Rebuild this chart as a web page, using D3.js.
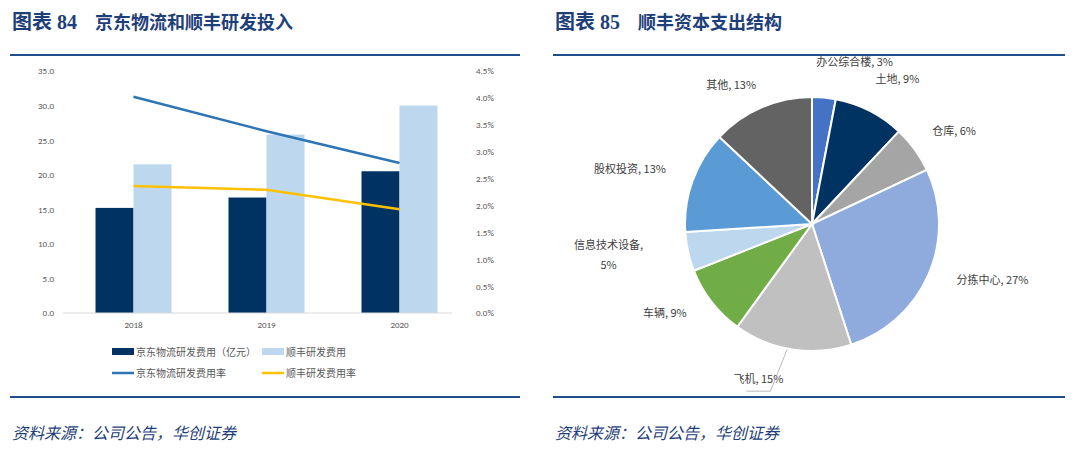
<!DOCTYPE html>
<html><head><meta charset="utf-8">
<script src="https://cdn.jsdelivr.net/npm/d3@7"></script>
<style>body{margin:0;background:#fff}svg{display:block}</style>
</head><body><svg id="c" width="1080" height="455"></svg>
<script>
const years = ["2018", "2019", "2020"];
const jdCost = [15.2, 16.7, 20.5];
const sfCost = [21.5, 25.8, 30.0];
const jdRate = [4.02, 3.38, 2.79];
const sfRate = [2.36, 2.29, 1.93];
const leftTicks = [0, 5, 10, 15, 20, 25, 30, 35];
const rightTicks = [0, 0.5, 1, 1.5, 2, 2.5, 3, 3.5, 4, 4.5];
const pieLabels = ["办公综合楼", "土地", "仓库", "分拣中心", "飞机", "车辆", "信息技术设备", "股权投资", "其他"];
const pieValues = [3, 9, 6, 27, 15, 9, 5, 13, 13];
const pieColors = ["#4472c4", "#003262", "#a5a5a5", "#8faadc", "#c0c0c0", "#70ad47", "#bdd7ee", "#5b9bd5", "#636363"];

const svg = d3.select("#c");
const CJK = "'Noto Sans CJK SC', sans-serif";
const navy = "#1f4e8c";

// headers, rules and sources
[[12, 10, 520, "图表 84", "京东物流和顺丰研发投入"], [555, 553, 1065, "图表 85", "顺丰资本支出结构"]].forEach(([tx, x0, x1, num, t]) => {
    const tt = svg.append("text").attr("x", tx).attr("y", 29).attr("fill", "#1f3f7a")
        .attr("font-family", "'Liberation Serif', 'Noto Sans CJK SC', serif").attr("font-size", 20).attr("font-weight", "bold");
    tt.append("tspan").text(num);
    tt.append("tspan").attr("dx", 18).attr("font-family", CJK).attr("font-size", 18).text(t);
    svg.append("line").attr("x1", x0).attr("x2", x1).attr("y1", 55).attr("y2", 55).attr("stroke", navy).attr("stroke-width", 2);
    svg.append("line").attr("x1", x0).attr("x2", x1).attr("y1", 397).attr("y2", 397).attr("stroke", navy).attr("stroke-width", 2);
    svg.append("text").attr("x", tx).attr("y", 439).attr("fill", "#1f3f7a").attr("font-family", CJK)
        .attr("font-style", "italic").attr("font-size", 16).text("资料来源：公司公告，华创证券");
});

// left chart
const x = d3.scaleBand().domain(years).range([67, 466]);
const y = d3.scaleLinear().domain([0, 35]).range([313, 71]);
const y2 = d3.scaleLinear().domain([0, 4.5]).range([313, 71]);
const bw = 38;
const g = svg.append("g");
g.append("g").attr("transform", "translate(60,0)")
    .call(d3.axisLeft(y).tickValues(leftTicks).tickFormat(d3.format(".1f")).tickSize(0).tickPadding(6))
    .call(a => a.select(".domain").remove());
g.append("g").attr("transform", "translate(470,0)")
    .call(d3.axisRight(y2).tickValues(rightTicks).tickFormat(d => d.toFixed(1) + "%").tickSize(0).tickPadding(6))
    .call(a => a.select(".domain").remove());
g.selectAll(".tick text").attr("fill", "#595959").attr("font-family", "Calibri, 'Liberation Sans', sans-serif").attr("font-size", 9);

const cx = d => x(d) + x.bandwidth() / 2;
g.selectAll(".jd").data(years).join("rect").attr("x", d => cx(d) - bw).attr("width", bw)
    .attr("y", (d, i) => y(jdCost[i])).attr("height", (d, i) => y(0) - y(jdCost[i])).attr("fill", "#003262");
g.selectAll(".sf").data(years).join("rect").attr("x", d => cx(d)).attr("width", bw)
    .attr("y", (d, i) => y(sfCost[i])).attr("height", (d, i) => y(0) - y(sfCost[i])).attr("fill", "#bdd7ee");
g.append("line").attr("x1", 63).attr("x2", 452).attr("y1", y(0)).attr("y2", y(0)).attr("stroke", "#d9d9d9");
g.append("g").attr("transform", `translate(0,${y(0)})`)
    .call(d3.axisBottom(x).tickSize(0).tickPadding(9))
    .call(a => a.select(".domain").remove())
    .selectAll("text").attr("fill", "#595959").attr("font-family", "Calibri, 'Liberation Sans', sans-serif").attr("font-size", 9);

const line = d3.line().x(d => cx(d[0])).y(d => y2(d[1]));
g.append("path").datum(d3.zip(years, jdRate)).attr("d", line).attr("fill", "none").attr("stroke", "#2e75b6").attr("stroke-width", 2.5);
g.append("path").datum(d3.zip(years, sfRate)).attr("d", line).attr("fill", "none").attr("stroke", "#ffc000").attr("stroke-width", 2.5);

const legend = [
    ["rect", "#003262", "京东物流研发费用（亿元）", 112, 352],
    ["rect", "#bdd7ee", "顺丰研发费用", 262, 352],
    ["line", "#2e75b6", "京东物流研发费用率", 112, 373],
    ["line", "#ffc000", "顺丰研发费用率", 262, 373]
];
legend.forEach(([k, c, t, lx, ly]) => {
    if (k === "rect") g.append("rect").attr("x", lx).attr("y", ly - 4).attr("width", 22).attr("height", 7).attr("fill", c);
    else g.append("line").attr("x1", lx).attr("x2", lx + 22).attr("y1", ly).attr("y2", ly).attr("stroke", c).attr("stroke-width", 2.5);
    g.append("text").attr("x", lx + 24).attr("y", ly + 4).attr("font-family", CJK).attr("font-size", 10).attr("fill", "#595959").text(t);
});

// pie
const R = 127;
const pg = svg.append("g").attr("transform", "translate(812,224)");
const arcs = d3.pie().sort(null).value(d => d)(pieValues);
const arc = d3.arc().innerRadius(0).outerRadius(R);
pg.selectAll("path").data(arcs).join("path").attr("d", arc)
    .attr("fill", (d, i) => pieColors[i]).attr("stroke", "#fff").attr("stroke-width", 2);
const lab = d3.arc().innerRadius(R + 24).outerRadius(R + 24);
const nudge = [[-10, -8], [-5, -6], [-2, 0], [6, 0], [-30, 10], [-6, 0], [-16, 0], [-4, 0], [4, 4]];
arcs.forEach((d, i) => {
    const [px, py] = lab.centroid(d);
    const mid = (d.startAngle + d.endAngle) / 2;
    const anchor = mid < Math.PI * 0.9 ? "start" : mid > Math.PI * 1.1 ? "end" : "middle";
    const tx = px + nudge[i][0], ty = py + nudge[i][1];
    const t = pg.append("text").attr("x", tx).attr("y", ty).attr("text-anchor", anchor)
        .attr("font-family", CJK).attr("font-size", 11).attr("fill", "#404040");
    if (pieLabels[i] === "信息技术设备") {
        t.attr("text-anchor", "middle").attr("x", tx - 40).attr("y", ty - 8);
        t.append("tspan").text(pieLabels[i] + ",");
        t.append("tspan").attr("x", tx - 40).attr("dy", 20).text(pieValues[i] + "%");
    } else t.text(`${pieLabels[i]}, ${pieValues[i]}%`);
    if (pieLabels[i] === "飞机") {
        const [ex, ey] = d3.arc().innerRadius(R).outerRadius(R).centroid(d);
        pg.append("polyline").attr("points", `${ex - 5},${ey} ${tx + 12},${ty + 8} ${tx - 12},${ty + 8}`)
            .attr("fill", "none").attr("stroke", "#a6a6a6").attr("stroke-width", 0.8);
    }
});
</script></body></html>
